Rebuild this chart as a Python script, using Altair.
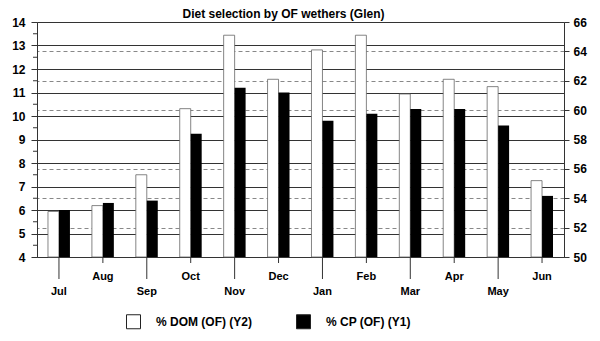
import json
import altair as alt
import pandas as pd

months = ["Jul", "Aug", "Sep", "Oct", "Nov", "Dec", "Jan", "Feb", "Mar", "Apr", "May", "Jun"]
dom_values = [53.1, 53.5, 55.6, 60.1, 65.1, 62.1, 64.1, 65.1, 61.1, 62.1, 61.6, 55.2]
cp_values = [6.0, 6.3, 6.4, 9.25, 11.2, 11.0, 9.8, 10.1, 10.3, 10.3, 9.6, 6.6]
series_names = ["% DOM (OF) (Y2)", "% CP (OF) (Y1)"]
left_ticks = list(range(4, 15))
left_minor_ticks = [4.5, 5.5, 6.5, 7.5, 8.5, 9.5, 10.5, 11.5, 12.5, 13.5]
right_ticks = list(range(50, 67, 2))
lower_months = months[0::2]
upper_months = months[1::2]

FONT = "Liberation Sans"
H = 235

df_dom = pd.DataFrame({"month": months, "value": dom_values, "series": series_names[0]})
df_cp = pd.DataFrame({"month": months, "value": cp_values, "series": series_names[1]})
df_lower = pd.DataFrame({"month": lower_months})
df_upper = pd.DataFrame({"month": upper_months})
df_minor = pd.DataFrame({"v": left_minor_ticks})

label_expr = "indexof(%s, datum.value) >= 0 ? ['', datum.value] : datum.value" % json.dumps(lower_months)

x_enc = alt.X(
    "month:N",
    sort=months,
    scale=alt.Scale(paddingInner=0.5, paddingOuter=0.25),
    axis=alt.Axis(
        title=None,
        labelAngle=0,
        labelFont=FONT,
        labelFontSize=11,
        labelFontWeight="bold",
        labelColor="black",
        labelPadding=13,
        labelLineHeight=15,
        labelExpr=label_expr,
        ticks=False,
        domainColor="#333",
        grid=False,
    ),
)
xoff = alt.XOffset("series:N", scale=alt.Scale(domain=series_names))
color = alt.Color(
    "series:N",
    scale=alt.Scale(domain=series_names, range=["white", "black"]),
    legend=alt.Legend(
        orient="none",
        legendX=89,
        legendY=292,
        direction="horizontal",
        title=None,
        symbolType="square",
        symbolSize=196,
        symbolStrokeColor="#222",
        symbolStrokeWidth=1,
        labelFont=FONT,
        labelFontSize=12,
        labelFontWeight="bold",
        labelColor="black",
        labelOffset=15,
        columnPadding=42,
    ),
)

dom_layer = alt.Chart(df_dom).mark_bar(stroke="#666", strokeWidth=0.8).encode(
    x=x_enc,
    xOffset=xoff,
    y=alt.Y(
        "value:Q",
        scale=alt.Scale(domain=[50, 66], nice=False, zero=False),
        axis=alt.Axis(
            orient="right",
            values=right_ticks,
            title=None,
            grid=True,
            gridColor="#888",
            gridDash=[4, 3],
            gridWidth=1,
            tickSize=5,
            tickColor="#333",
            domainColor="#333",
            labelPadding=4,
            labelFont=FONT,
            labelFontSize=12,
            labelFontWeight="bold",
            labelColor="black",
        ),
    ),
    y2=alt.datum(50),
    color=color,
)

cp_layer = alt.Chart(df_cp).mark_bar().encode(
    x=x_enc,
    xOffset=xoff,
    y=alt.Y(
        "value:Q",
        scale=alt.Scale(domain=[4, 14], nice=False, zero=False),
        axis=alt.Axis(
            orient="left",
            values=left_ticks,
            title=None,
            grid=True,
            gridColor="#333",
            gridWidth=1,
            tickSize=6,
            tickColor="#333",
            domainColor="#333",
            labelPadding=6,
            labelFont=FONT,
            labelFontSize=12,
            labelFontWeight="bold",
            labelColor="black",
        ),
    ),
    y2=alt.datum(4),
    color=color,
)

minor_layer = alt.Chart(df_minor).mark_rule(color="#333", strokeWidth=1).encode(
    y=alt.Y("v:Q", scale=alt.Scale(domain=[4, 14], nice=False, zero=False), axis=None),
    x=alt.value(-4),
    x2=alt.value(0),
)

long_ticks = alt.Chart(df_lower).mark_rule(color="#333", strokeWidth=1).encode(
    x=alt.X("month:N", sort=months),
    y=alt.value(H),
    y2=alt.value(H + 22),
)
short_ticks = alt.Chart(df_upper).mark_rule(color="#333", strokeWidth=1).encode(
    x=alt.X("month:N", sort=months),
    y=alt.value(H),
    y2=alt.value(H + 6),
)

chart = (
    alt.layer(dom_layer, cp_layer, minor_layer, long_ticks, short_ticks)
    .resolve_scale(y="independent")
    .properties(
        width=527,
        height=H,
        autosize=alt.AutoSizeParams(type="none"),
        padding={"left": 29, "top": 14, "right": 28, "bottom": 80},
        background="white",
        title=alt.Title(
            "Diet selection by OF wethers (Glen)",
            font=FONT,
            fontSize=12,
            fontWeight="bold",
            color="black",
            anchor="middle",
            offset=3,
            dy=8,
            dx=-17,
        ),
    )
    .configure_view(stroke=None)
)

chart.save("out.html", embed_options={"renderer": "svg", "actions": False})
